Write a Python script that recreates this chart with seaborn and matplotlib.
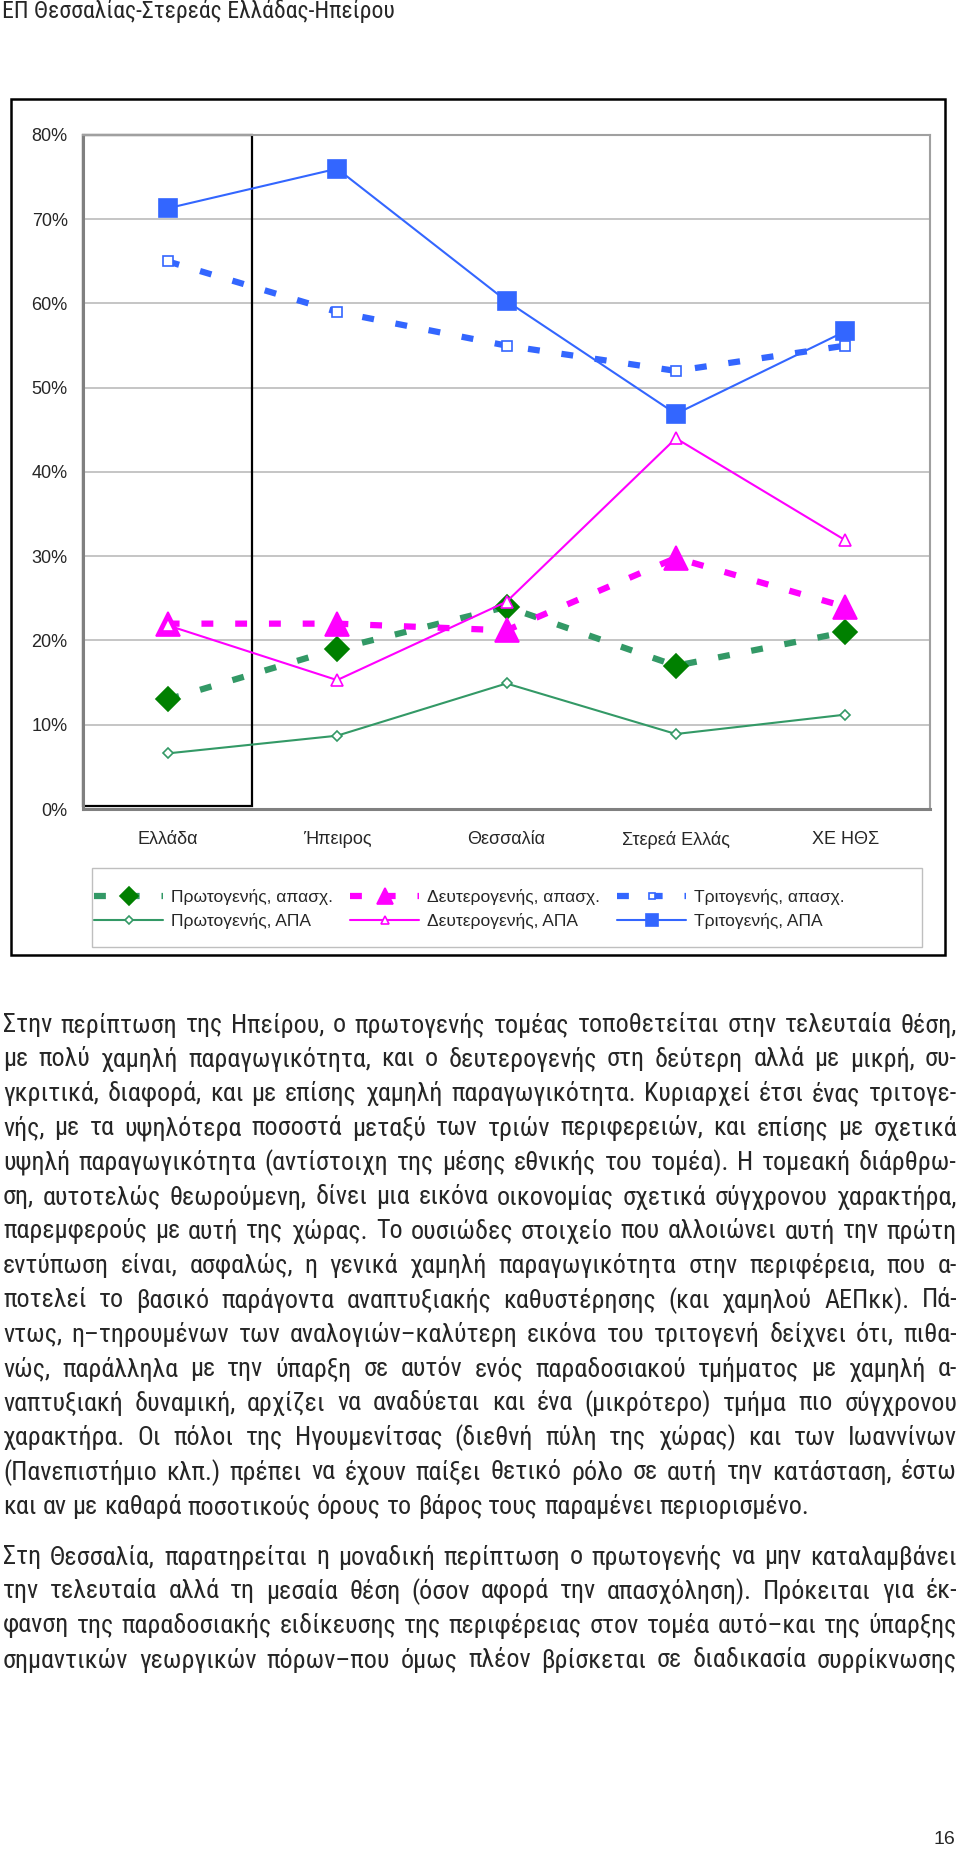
import matplotlib
matplotlib.use("Agg")
import matplotlib.pyplot as plt
import seaborn as sns
import pandas as pd
from matplotlib.patches import Rectangle
from matplotlib.ticker import PercentFormatter, MultipleLocator, FixedLocator
from matplotlib import font_manager as fm

# Chart data (share of total)
regions = ["Ελλάδα", "Ήπειρος", "Θεσσαλία", "Στερεά Ελλάς", "ΧΕ ΗΘΣ"]
prim_emp = [0.130, 0.190, 0.240, 0.170, 0.210]
sec_emp = [0.220, 0.220, 0.212, 0.298, 0.240]
ter_emp = [0.650, 0.590, 0.550, 0.520, 0.550]
prim_apa = [0.066, 0.087, 0.149, 0.089, 0.112]
sec_apa = [0.218, 0.153, 0.246, 0.440, 0.319]
ter_apa = [0.713, 0.760, 0.603, 0.469, 0.567]
series_names = ["Πρωτογενής, απασχ.", "Δευτερογενής, απασχ.", "Τριτογενής, απασχ.",
                "Πρωτογενής, ΑΠΑ", "Δευτερογενής, ΑΠΑ", "Τριτογενής, ΑΠΑ"]
series_values = [prim_emp, sec_emp, ter_emp, prim_apa, sec_apa, ter_apa]

header = "ΕΠ Θεσσαλίας-Στερεάς Ελλάδας-Ηπείρου"
para1 = [
    "Στην περίπτωση της Ηπείρου, ο πρωτογενής τομέας τοποθετείται στην τελευταία θέση,",
    "με πολύ χαμηλή παραγωγικότητα, και ο δευτερογενής στη δεύτερη αλλά με μικρή, συ-",
    "γκριτικά, διαφορά, και με επίσης χαμηλή παραγωγικότητα. Κυριαρχεί έτσι ένας τριτογε-",
    "νής, με τα υψηλότερα ποσοστά μεταξύ των τριών περιφερειών, και επίσης με σχετικά",
    "υψηλή παραγωγικότητα (αντίστοιχη της μέσης εθνικής του τομέα). Η τομεακή διάρθρω-",
    "ση, αυτοτελώς θεωρούμενη, δίνει μια εικόνα οικονομίας σχετικά σύγχρονου χαρακτήρα,",
    "παρεμφερούς με αυτή της χώρας. Το ουσιώδες στοιχείο που αλλοιώνει αυτή την πρώτη",
    "εντύπωση είναι, ασφαλώς, η γενικά χαμηλή παραγωγικότητα στην περιφέρεια, που α-",
    "ποτελεί το βασικό παράγοντα αναπτυξιακής καθυστέρησης (και χαμηλού ΑΕΠκκ). Πά-",
    "ντως, η–τηρουμένων των αναλογιών–καλύτερη εικόνα του τριτογενή δείχνει ότι, πιθα-",
    "νώς, παράλληλα με την ύπαρξη σε αυτόν ενός παραδοσιακού τμήματος με χαμηλή α-",
    "ναπτυξιακή δυναμική, αρχίζει να αναδύεται και ένα (μικρότερο) τμήμα πιο σύγχρονου",
    "χαρακτήρα. Οι πόλοι της Ηγουμενίτσας (διεθνή πύλη της χώρας) και των Ιωαννίνων",
    "(Πανεπιστήμιο κλπ.) πρέπει να έχουν παίξει θετικό ρόλο σε αυτή την κατάσταση, έστω",
    "και αν με καθαρά ποσοτικούς όρους το βάρος τους παραμένει περιορισμένο.",
]
para2 = [
    "Στη Θεσσαλία, παρατηρείται η μοναδική περίπτωση ο πρωτογενής να μην καταλαμβάνει",
    "την τελευταία αλλά τη μεσαία θέση (όσον αφορά την απασχόληση). Πρόκειται για έκ-",
    "φανση της παραδοσιακής ειδίκευσης της περιφέρειας στον τομέα αυτό–και της ύπαρξης",
    "σημαντικών γεωργικών πόρων–που όμως πλέον βρίσκεται σε διαδικασία συρρίκνωσης",
]

# line styles per series
GREEN, DKGREEN, MAGENTA, BLUE = "#339966", "#008000", "#FF00FF", "#3366FF"
styles = [
    dict(color=GREEN, marker="D", ms=12.5, mfc=DKGREEN, mec=DKGREEN, lw=4.5, dashed=True),
    dict(color=MAGENTA, marker="^", ms=17, mfc=MAGENTA, mec=MAGENTA, lw=4.5, dashed=True),
    dict(color=BLUE, marker="s", ms=7, mfc="white", mec=BLUE, lw=4.5, dashed=True),
    dict(color=GREEN, marker="D", ms=5.5, mfc="white", mec=GREEN, lw=1.5, dashed=False),
    dict(color=MAGENTA, marker="^", ms=8, mfc="white", mec=MAGENTA, lw=1.5, dashed=False),
    dict(color=BLUE, marker="s", ms=12.5, mfc=BLUE, mec=BLUE, lw=1.5, dashed=False),
]

sns.set_style("white")
plt.rcParams["font.family"] = ["Liberation Sans", "DejaVu Sans"]


# the page text is set in a narrow face; use one if installed
def pick_narrow():
    fonts = fm.fontManager.ttflist
    for want in ["Liberation Sans Narrow", "Arial Narrow"]:
        for f in fonts:
            if f.name == want and f.style == "normal" and f.weight in (400, "normal", "regular"):
                return fm.FontProperties(fname=f.fname)
    for f in fonts:
        tag = (f.name + " " + str(f.stretch)).lower()
        if ("condensed" in tag or "narrow" in tag) and "semi" not in tag and "extra" not in tag \
                and f.style == "normal" and f.weight in (400, "normal", "regular") \
                and ("noto sans" in f.name.lower() or "roboto" in f.name.lower()
                     or "open sans" in f.name.lower()):
            return fm.FontProperties(fname=f.fname)
    return fm.FontProperties(family="Liberation Sans")


NARROW_FP = pick_narrow()

W, H = 960, 1850
fig = plt.figure(figsize=(W / 100, H / 100), dpi=100)
fig.patch.set_facecolor("white")
ax = fig.add_axes([83 / W, 1 - 809 / H, 847 / W, 674 / H])

lines = []
for i, (name, vals, st) in enumerate(zip(series_names, series_values, styles)):
    df = pd.DataFrame({"region": regions, "value": vals})
    n = len(ax.lines)
    sns.pointplot(data=df, x="region", y="value", order=regions, color=st["color"],
                  markers=st["marker"], errorbar=None, ax=ax)
    line = ax.lines[n]
    line.set_linewidth(st["lw"])
    line.set_markersize(st["ms"])
    line.set_markerfacecolor(st["mfc"])
    line.set_markeredgecolor(st["mec"])
    line.set_markeredgewidth(1.2)
    line.set_zorder(3 + i)
    if st["dashed"]:
        line.set_dashes((1.9, 3.5))
        line.set_dash_capstyle("butt")
    else:
        line.set_linestyle("-")
    lines.append(line)

ax.set_xlim(-0.5, 4.5)
ax.set_ylim(0, 0.8)
ax.set_xlabel("")
ax.set_ylabel("")
ax.yaxis.set_major_locator(MultipleLocator(0.1))
ax.yaxis.set_major_formatter(PercentFormatter(1.0, decimals=0))
ax.grid(axis="y", color="#C0C0C0", lw=1.3)
ax.grid(axis="x", visible=False)
ax.set_axisbelow(True)
ax.xaxis.set_minor_locator(FixedLocator([-0.5, 0.5, 1.5, 2.5, 3.5, 4.5]))
ax.tick_params(axis="x", which="major", length=0, pad=22, labelsize=13)
ax.tick_params(axis="x", which="minor", length=4, color="#808080", width=1.5)
ax.tick_params(axis="y", length=4, color="#808080", width=1.2, pad=7, labelsize=13)
for lab in ax.get_xticklabels():
    lab.set_verticalalignment("center")
for side in ["left", "bottom"]:
    ax.spines[side].set_color("#808080")
    ax.spines[side].set_linewidth(2.2)
for side in ["top", "right"]:
    ax.spines[side].set_color("#A0A0A0")
    ax.spines[side].set_linewidth(1.5)

# highlight box around the national column
ax.add_patch(Rectangle((-0.5, 0.003), 1, 0.797, fill=False, ec="black", lw=1.6,
                       zorder=2.5, clip_on=False))

# legend: entries without frame, box drawn separately
order = [0, 3, 1, 4, 2, 5]
leg = fig.legend(handles=[lines[k] for k in order], labels=[series_names[k] for k in order],
                 ncol=3, loc="upper left", bbox_to_anchor=(94 / W, 1 - 889 / H),
                 frameon=False, fontsize=12.5, handlelength=4, handletextpad=0.45,
                 borderpad=0, labelspacing=0.45, borderaxespad=0, columnspacing=0.96,
                 markerscale=0.7)
fig.add_artist(Rectangle((92 / W, 1 - 947 / H), 830 / W, 79 / H, transform=fig.transFigure,
                         fill=False, ec="#BFBFBF", lw=1))

# outer chart frame
fig.add_artist(Rectangle((11 / W, 1 - 955 / H), 934 / W, 856 / H, transform=fig.transFigure,
                         fill=False, ec="black", lw=1.8))

renderer = fig.canvas.get_renderer()


def width_px(s, size):
    t = fig.text(0, 0, s, fontproperties=NARROW_FP, fontsize=size)
    w = t.get_window_extent(renderer).width
    t.remove()
    return w


# header, fitted to its width on the page
hsize = 15 * 395 / width_px(header, 15)
fig.text(2 / W, 1 - 11 / H, header, fontproperties=NARROW_FP, fontsize=hsize,
         va="center", ha="left")

# body text, justified
LEFT, RIGHT = 3, 957
base = 15
justified = para1[:-1] + para2
widest = max(width_px(s, base) for s in justified)
bsize = base * (RIGHT - LEFT) * 0.985 / widest
space = width_px("a a", bsize) - width_px("aa", bsize)


def draw_line(text, y, justify):
    words = text.split(" ")
    arts = [fig.text(0, 1 - y / H, w, fontproperties=NARROW_FP, fontsize=bsize,
                     va="center", ha="left") for w in words]
    widths = [a.get_window_extent(renderer).width for a in arts]
    gap = (RIGHT - LEFT - sum(widths)) / (len(words) - 1) if justify else space
    x = LEFT
    for a, w in zip(arts, widths):
        a.set_x(x / W)
        x += w + gap


for i, s in enumerate(para1):
    draw_line(s, 1025 + i * 34.4, i < len(para1) - 1)
for i, s in enumerate(para2):
    draw_line(s, 1557 + i * 34.4, True)

fig.text(955 / W, 1 - 1839 / H, "16", fontsize=14, ha="right", va="center")

fig.savefig("out.png", dpi=100)
